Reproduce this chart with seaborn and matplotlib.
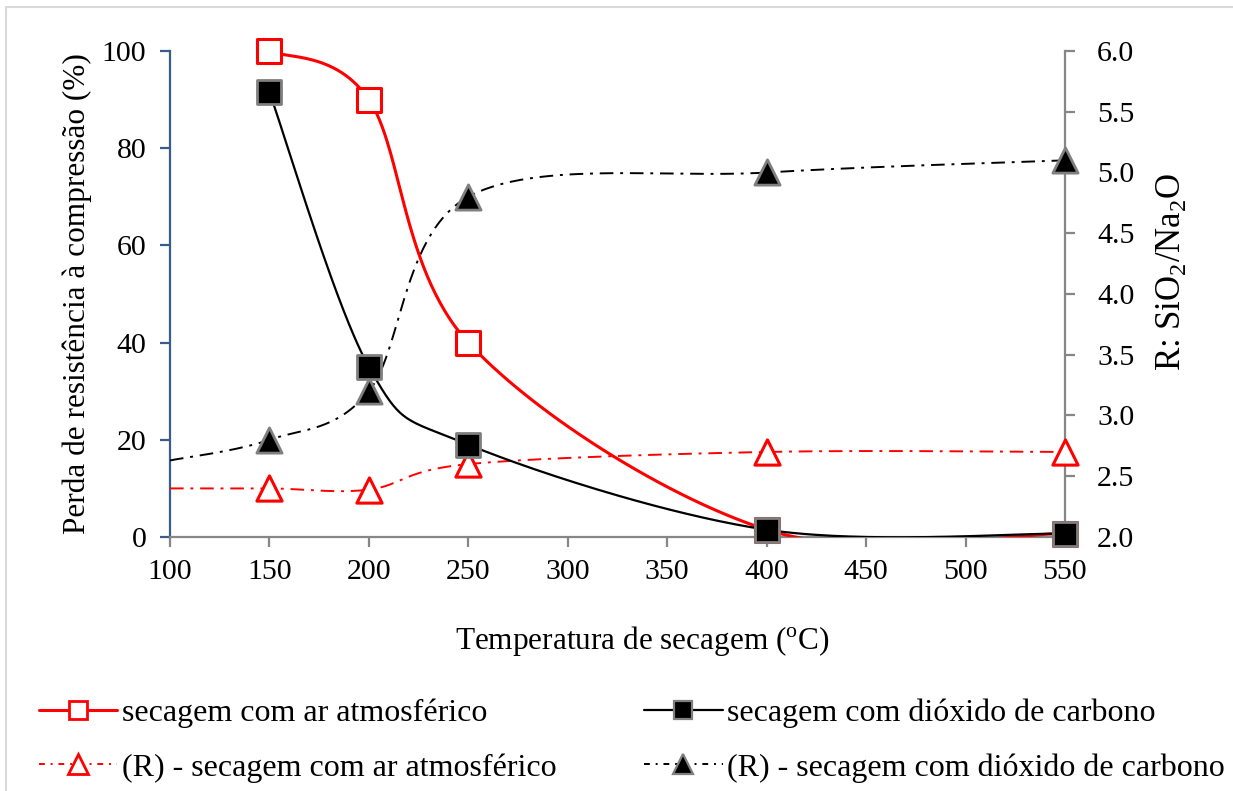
import numpy as np
import pandas as pd
import matplotlib
matplotlib.use("Agg")
import matplotlib.pyplot as plt
from matplotlib.lines import Line2D
from matplotlib.patches import Rectangle
import seaborn as sns

# Strength loss (%) after drying, left axis
temp_loss = [150, 200, 250, 400, 550]
loss_air = [100, 90, 40, 1.5, 0.7]
loss_co2 = [91.5, 35, 19, 1.5, 0.7]

# Molar ratio R = SiO2/Na2O, right axis (first point at 100 °C drawn without marker)
temp_ratio = [100, 150, 200, 250, 400, 550]
ratio_air = [2.40, 2.40, 2.39, 2.60, 2.70, 2.70]
ratio_co2 = [2.63, 2.80, 3.20, 4.80, 5.00, 5.10]

x_ticks = [100, 150, 200, 250, 300, 350, 400, 450, 500, 550]
left_ticks = [0, 20, 40, 60, 80, 100]
right_ticks = [2.0, 2.5, 3.0, 3.5, 4.0, 4.5, 5.0, 5.5, 6.0]

labels = ["secagem com ar atmosférico",
          "(R) - secagem com ar atmosférico",
          "secagem com dióxido de carbono",
          "(R) - secagem com dióxido de carbono"]


def smooth(xs, ys, n=60):
    """Bezier smoothing through the points (Catmull-Rom control points)."""
    p = np.column_stack([xs, ys]).astype(float)
    ext = np.vstack([p[0], p, p[-1]])
    out = []
    t = np.linspace(0, 1, n)[:, None]
    for i in range(len(p) - 1):
        p0, p1, p2, p3 = ext[i], ext[i + 1], ext[i + 2], ext[i + 3]
        c1 = p1 + (p2 - p0) / 6.0
        c2 = p2 - (p3 - p1) / 6.0
        seg = ((1 - t) ** 3) * p1 + 3 * ((1 - t) ** 2) * t * c1 + 3 * (1 - t) * t ** 2 * c2 + t ** 3 * p2
        out.append(seg if i == 0 else seg[1:])
    s = np.vstack(out)
    return pd.DataFrame({"x": s[:, 0], "y": s[:, 1]})


sns.set_theme(style="white")
plt.rcParams["font.family"] = ["Liberation Serif", "DejaVu Serif"]
plt.rcParams["mathtext.fontset"] = "custom"
plt.rcParams["mathtext.rm"] = "Liberation Serif"
plt.rcParams["text.color"] = "black"
plt.rcParams["axes.labelcolor"] = "black"

FS_TICK = 21.5
FS_LAB = 22.5
FS_LEG = 23
RED = "#FF0000"
BLUE = "#385D8A"
GRAY = "#868686"
EDGE = "#7F7F7F"
DASHDOT = (0, (7, 3.5, 1.5, 3.5))

fig = plt.figure(figsize=(12.33, 7.91), dpi=100)
ax = fig.add_axes([170 / 1233, 1 - 537 / 791, (1065 - 170) / 1233, (537 - 51) / 791])
ax2 = ax.twinx()

# ratio curves (right axis)
sns.lineplot(data=smooth(temp_ratio, ratio_air), x="x", y="y", ax=ax2, sort=False,
             estimator=None, color=RED, lw=1.4, linestyle=DASHDOT, zorder=2)
sns.lineplot(data=smooth(temp_ratio, ratio_co2), x="x", y="y", ax=ax2, sort=False,
             estimator=None, color="black", lw=1.4, linestyle=DASHDOT, zorder=2)
sns.scatterplot(x=temp_ratio[1:], y=ratio_air[1:], ax=ax2, marker="^", s=330,
                facecolor="white", edgecolor=RED, linewidth=2.2, zorder=3, clip_on=False)
sns.scatterplot(x=temp_ratio[1:], y=ratio_co2[1:], ax=ax2, marker="^", s=330,
                facecolor="black", edgecolor=EDGE, linewidth=2.0, zorder=3, clip_on=False)

# strength-loss curves (left axis), drawn on top
sns.lineplot(data=smooth(temp_loss, loss_air), x="x", y="y", ax=ax2, sort=False,
             estimator=None, color=RED, lw=2.2, zorder=4, transform=ax.transData)
sns.lineplot(data=smooth(temp_loss, loss_co2), x="x", y="y", ax=ax2, sort=False,
             estimator=None, color="black", lw=1.6, zorder=4, transform=ax.transData)
sns.scatterplot(x=temp_loss, y=loss_air, ax=ax2, marker="s", s=300,
                facecolor="white", edgecolor=RED, linewidth=2.2, zorder=5,
                transform=ax.transData, clip_on=False)
sns.scatterplot(x=temp_loss, y=loss_co2, ax=ax2, marker="s", s=300,
                facecolor="black", edgecolor=EDGE, linewidth=2.0, zorder=5,
                transform=ax.transData, clip_on=False)

ax.set_xlim(100, 550)
ax.set_ylim(0, 100)
ax2.set_ylim(2.0, 6.0)
ax.set_xticks(x_ticks)
ax.set_yticks(left_ticks)
ax2.set_yticks(right_ticks)
ax.set_xticklabels([str(v) for v in x_ticks], fontsize=FS_TICK)
ax.set_yticklabels([str(v) for v in left_ticks], fontsize=FS_TICK)
ax2.set_yticklabels([f"{v:.1f}" for v in right_ticks], fontsize=FS_TICK)

for a in (ax, ax2):
    a.grid(False)
    a.set_facecolor("none")
    for s in a.spines.values():
        s.set_visible(False)
ax.spines["left"].set_visible(True)
ax.spines["left"].set_color(BLUE)
ax.spines["left"].set_linewidth(1.6)
ax.spines["bottom"].set_visible(True)
ax.spines["bottom"].set_color(GRAY)
ax.spines["bottom"].set_linewidth(1.6)
ax2.spines["right"].set_visible(True)
ax2.spines["right"].set_color(GRAY)
ax2.spines["right"].set_linewidth(1.6)

ax.tick_params(axis="y", which="major", direction="out", length=7, width=1.6,
               color=BLUE, pad=10, labelcolor="black", left=True)
ax.tick_params(axis="x", which="major", direction="out", length=7, width=1.6,
               color=GRAY, pad=9, labelcolor="black", bottom=True)
ax2.tick_params(axis="y", which="major", direction="out", length=7, width=1.6,
                color=GRAY, pad=16, labelcolor="black", right=True)

ax.set_xlabel(r"Temperatura de secagem ($^{\mathrm{o}}$C)", fontsize=FS_LAB, labelpad=28)
ax.xaxis.label.set_x((642 - 170) / 895)
ax.set_ylabel("Perda de resistência à compressão (%)", fontsize=FS_LAB, labelpad=7)
ax2.set_ylabel(r"R: SiO$_2$/Na$_2$O", fontsize=25, labelpad=14)
ax2.yaxis.label.set_y((537 - 272) / 486)

handles = [
    Line2D([], [], color=RED, lw=2.2, marker="s", ms=13, mfc="white", mec=RED, mew=2.0),
    Line2D([], [], color=RED, lw=1.4, linestyle=(0, (3, 3, 1, 3)), marker="^", ms=14,
           mfc="white", mec=RED, mew=2.0),
    Line2D([], [], color="black", lw=1.6, marker="s", ms=13, mfc="black", mec=EDGE, mew=1.6),
    Line2D([], [], color="black", lw=1.4, linestyle=(0, (3, 3, 1, 3)), marker="^", ms=14,
           mfc="black", mec=EDGE, mew=1.6),
]
fig.legend(handles, labels, ncol=2, loc="upper left", bbox_to_anchor=(10 / 1233, 1 - 670 / 791),
           frameon=False, fontsize=FS_LEG, handlelength=2.45, handletextpad=0.15,
           columnspacing=2.75, labelspacing=0.78)

# light chart-area border
fig.add_artist(Rectangle((6 / 1233, -0.01), 1.2, 1 - 7 / 791 + 0.01, transform=fig.transFigure,
                         fill=False, edgecolor="#D9D9D9", lw=1.5))

fig.savefig("out.png", dpi=100)
